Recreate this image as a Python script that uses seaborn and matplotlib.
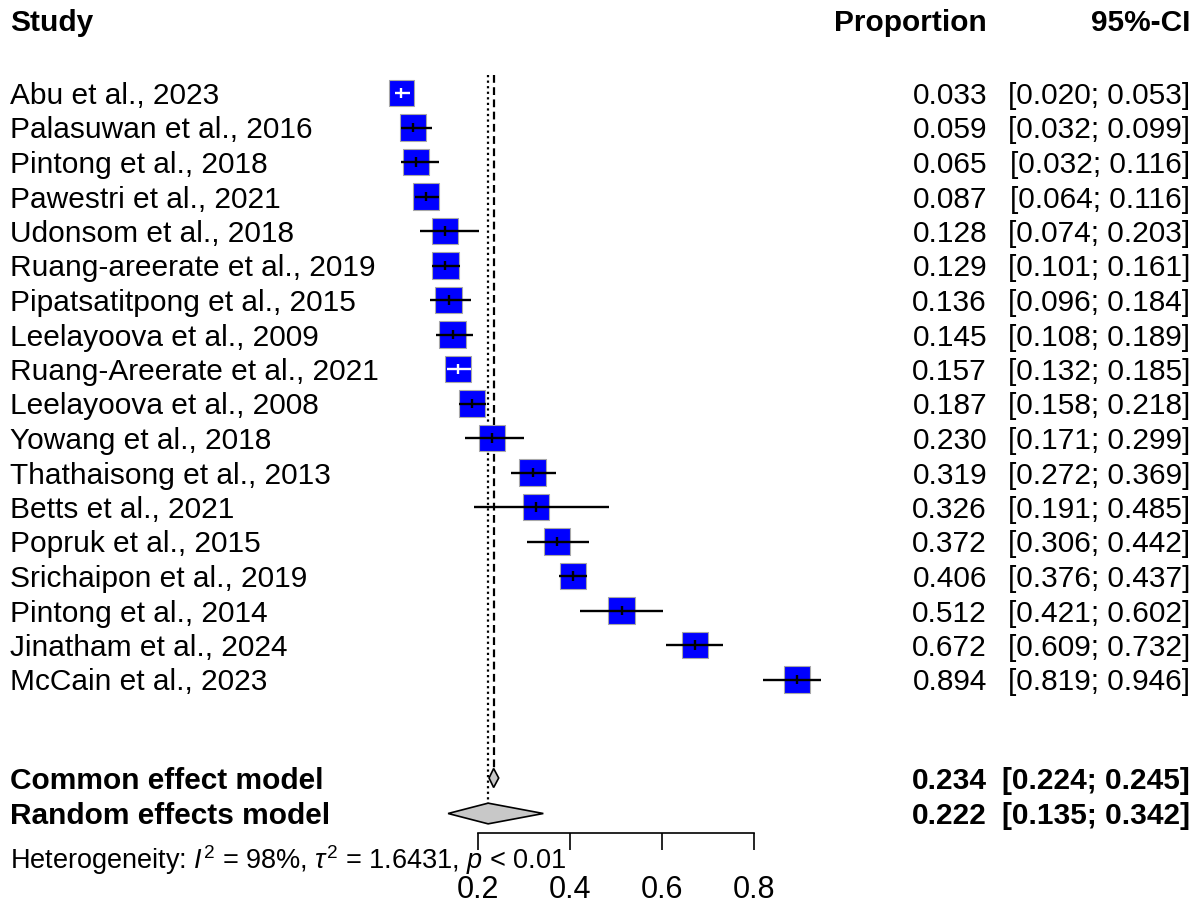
import numpy as np
import pandas as pd
import matplotlib
matplotlib.use("Agg")
import matplotlib.pyplot as plt
import matplotlib.transforms as mtransforms
from matplotlib.patches import Polygon
import seaborn as sns

# ---------------------------------------------------------------------------
# data
# ---------------------------------------------------------------------------
studies = [
    "Abu et al., 2023", "Palasuwan et al., 2016", "Pintong et al., 2018",
    "Pawestri et al., 2021", "Udonsom et al., 2018",
    "Ruang-areerate et al., 2019", "Pipatsatitpong et al., 2015",
    "Leelayoova et al., 2009", "Ruang-Areerate et al., 2021",
    "Leelayoova et al., 2008", "Yowang et al., 2018",
    "Thathaisong et al., 2013", "Betts et al., 2021", "Popruk et al., 2015",
    "Srichaipon et al., 2019", "Pintong et al., 2014",
    "Jinatham et al., 2024", "McCain et al., 2023",
]
prop = [0.033, 0.059, 0.065, 0.087, 0.128, 0.129, 0.136, 0.145, 0.157,
        0.187, 0.230, 0.319, 0.326, 0.372, 0.406, 0.512, 0.672, 0.894]
ci_low = [0.020, 0.032, 0.032, 0.064, 0.074, 0.101, 0.096, 0.108, 0.132,
          0.158, 0.171, 0.272, 0.191, 0.306, 0.376, 0.421, 0.609, 0.819]
ci_high = [0.053, 0.099, 0.116, 0.116, 0.203, 0.161, 0.184, 0.189, 0.185,
           0.218, 0.299, 0.369, 0.485, 0.442, 0.437, 0.602, 0.732, 0.946]
weights = [5.1, 5.5, 5.5, 5.6, 5.5, 5.6, 5.6, 5.6, 5.6,
           5.6, 5.6, 5.6, 5.4, 5.6, 5.6, 5.6, 5.6, 5.5]

summary_labels = ["Common effect model", "Random effects model"]
summary_est = [0.234, 0.222]
summary_low = [0.224, 0.135]
summary_high = [0.245, 0.342]

xticks = [0.2, 0.4, 0.6, 0.8]
het_text = (r"Heterogeneity: $\mathit{I}^2$ = 98%, $\tau^2$ = 1.6431, "
            r"$\mathit{p}$ < 0.01")

# ---------------------------------------------------------------------------
# layout (pixels of a 1200x906 canvas)
# ---------------------------------------------------------------------------
W, H = 1200, 906
X0_PX, PX_PER_UNIT = 386, 460          # x=0 and scale of proportion axis
ROW0_PX, ROW_PX = 93, 34.5             # first study row and row spacing
AXIS_PX = 833                          # y of the drawn x axis


def row_of(px):
    return (px - ROW0_PX) / ROW_PX


sns.set_theme(style="white")
plt.rcParams["font.family"] = ["Liberation Sans", "DejaVu Sans"]
plt.rcParams["text.color"] = "black"
plt.rcParams["xtick.color"] = "black"
plt.rcParams["xtick.labelcolor"] = "black"
plt.rcParams["mathtext.fontset"] = "custom"
plt.rcParams["mathtext.rm"] = "Liberation Sans"
plt.rcParams["mathtext.it"] = "Liberation Sans:italic"

fig = plt.figure(figsize=(W / 100, H / 100), dpi=100)
ax = fig.add_axes([0, 1 - AXIS_PX / H, 1, AXIS_PX / H])
ax.set_xlim(-X0_PX / PX_PER_UNIT, (W - X0_PX) / PX_PER_UNIT)
ax.set_ylim(row_of(AXIS_PX), row_of(0))

df = pd.DataFrame({
    "study": studies, "prop": prop, "low": ci_low, "high": ci_high,
    "weight": weights, "row": np.arange(len(studies)),
})

# squares, area proportional to weight
side_px = 26.5 * np.sqrt(df["weight"] / max(weights))
sns.scatterplot(data=df, x="prop", y="row", marker="s", color="#0000ff",
                edgecolor="#a8a8a8", linewidth=0.8,
                s=(side_px * 0.72) ** 2, ax=ax, legend=False, zorder=3)

# confidence intervals: white when they fit within the square
half_box = side_px / 2 / PX_PER_UNIT
inside = (df["prop"] - df["low"] < half_box) & (df["high"] - df["prop"] < half_box)
for r, ins in zip(df.itertuples(), inside):
    col = "white" if ins else "black"
    ax.hlines(r.row, r.low, r.high, color=col, lw=1.7, zorder=4)
    ax.vlines(r.prop, r.row - 0.14, r.row + 0.14, color=col, lw=1.7, zorder=4)

# summary diamonds
sum_rows = [row_of(778), row_of(813.5)]
half_h = [0.275, 0.30]
for est, lo, hi, yr, hh in zip(summary_est, summary_low, summary_high,
                               sum_rows, half_h):
    ax.add_patch(Polygon([[lo, yr], [est, yr - hh], [hi, yr], [est, yr + hh]],
                         closed=True, facecolor="#c8c8c8", edgecolor="black",
                         lw=1.2, zorder=3))

# reference lines for common (dashed) and random (dotted) estimate
top = row_of(75)
ax.vlines(summary_est[0], top, sum_rows[0] - half_h[0], color="black",
          lw=1.6, linestyles=(0, (3.5, 2)))
ax.vlines(summary_est[1], top, sum_rows[1] - half_h[1], color="black",
          lw=1.6, linestyles=(0, (1, 1.5)))

# x axis limited to 0.2 .. 0.8
for side in ["left", "right", "top"]:
    ax.spines[side].set_visible(False)
ax.spines["bottom"].set_bounds(xticks[0], xticks[-1])
ax.spines["bottom"].set_linewidth(1.2)
ax.spines["bottom"].set_color("black")
ax.set_xticks(xticks)
ax.set_xticklabels([f"{t:.1f}" for t in xticks], fontsize=22)
ax.tick_params(axis="x", direction="out", length=12.5, width=1.2,
               color="black", pad=18, bottom=True)
ax.set_yticks([])
ax.set_xlabel("")
ax.set_ylabel("")

# text columns
tr = mtransforms.blended_transform_factory(ax.transAxes, ax.transData)
fs = 21.5
ax.text(10 / W, row_of(20), "Study", transform=tr, fontsize=fs,
        fontweight="bold", va="center_baseline", clip_on=False)
ax.text(987 / W, row_of(20), "Proportion", transform=tr, fontsize=fs,
        fontweight="bold", va="center_baseline", ha="right", clip_on=False)
ax.text(1190 / W, row_of(20), "95%-CI", transform=tr, fontsize=fs,
        fontweight="bold", va="center_baseline", ha="right", clip_on=False)

for r in df.itertuples():
    ax.text(10 / W, r.row, r.study, transform=tr, fontsize=fs,
            va="center_baseline")
    ax.text(987 / W, r.row, f"{r.prop:.3f}", transform=tr, fontsize=fs,
            va="center_baseline", ha="right")
    ax.text(1190 / W, r.row, f"[{r.low:.3f}; {r.high:.3f}]", transform=tr,
            fontsize=fs, va="center_baseline", ha="right")

for lab, est, lo, hi, yr in zip(summary_labels, summary_est, summary_low,
                                summary_high, sum_rows):
    ax.text(10 / W, yr, lab, transform=tr, fontsize=fs,
            fontweight="bold", va="center_baseline")
    ax.text(987 / W, yr, f"{est:.3f}", transform=tr, fontsize=fs,
            fontweight="bold", va="center_baseline", ha="right")
    ax.text(1190 / W, yr, f"[{lo:.3f}; {hi:.3f}]", transform=tr,
            fontsize=fs, fontweight="bold", va="center_baseline",
            ha="right")

ax.text(10 / W, row_of(856), het_text, transform=tr, fontsize=19.5,
        va="center_baseline", clip_on=False, zorder=1)

fig.savefig("out.png", dpi=100)
